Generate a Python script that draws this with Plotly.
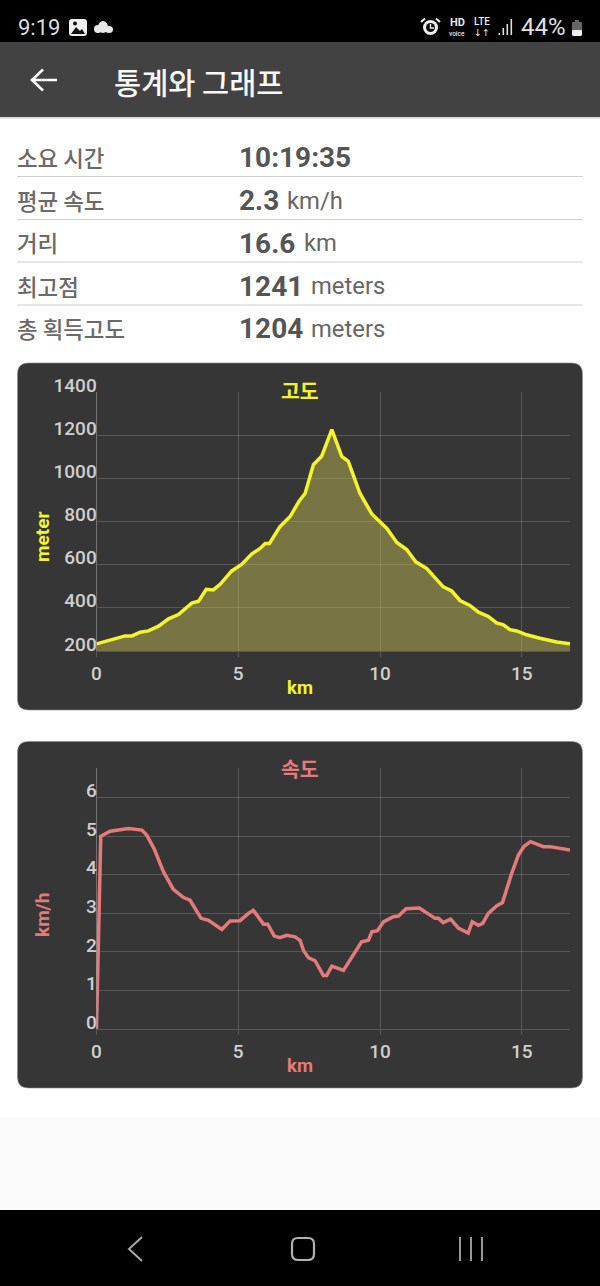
import plotly.graph_objects as go

# ---------- data ----------
alt_km = [0, .66, 1.01, 1.25, 1.54, 1.83, 2.19, 2.54, 2.89, 3.36, 3.60, 3.87, 4.12, 4.36, 4.77, 5.12, 5.48, 5.77, 5.95, 6.10,
          6.47, 6.83, 7.14, 7.36, 7.65, 7.94, 8.30, 8.65, 8.88, 9.29, 9.71, 10.24, 10.59, 10.94, 11.26, 11.65, 12.23, 12.53,
          12.82, 13.17, 13.47, 13.82, 14.11, 14.35, 14.58, 14.82, 15.17, 15.64, 16.23, 16.70]
alt_m = [233, 256, 270, 270, 287, 293, 315, 349, 369, 422, 431, 486, 483, 509, 571, 601, 650, 675, 698, 698,
         776, 823, 893, 931, 1063, 1102, 1226, 1102, 1079, 931, 835, 768, 703, 670, 613, 582, 497, 478,
         434, 411, 380, 360, 330, 321, 299, 293, 275, 259, 242, 233]
spd_km = [0, .15, .48, .78, 1.13, 1.60, 1.77, 2.03, 2.36, 2.71, 3.07, 3.30, 3.69, 3.95, 4.42, 4.71, 5.06, 5.36, 5.53, 5.89,
          6.04, 6.27, 6.47, 6.71, 7.00, 7.18, 7.30, 7.47, 7.71, 8.00, 8.12, 8.30, 8.71, 9.35, 9.59, 9.71, 9.91, 10.12,
          10.47, 10.65, 10.92, 11.39, 11.94, 12.06, 12.23, 12.49, 12.76, 13.11, 13.25, 13.47, 13.62, 13.82, 14.11, 14.32,
          14.64, 14.88, 15.08, 15.31, 15.76, 15.99, 16.70]
spd_kmh = [0, 5.00, 5.13, 5.16, 5.20, 5.16, 5.03, 4.68, 4.08, 3.62, 3.41, 3.34, 2.87, 2.82, 2.58, 2.80, 2.81, 3.00, 3.08, 2.72,
           2.72, 2.41, 2.37, 2.43, 2.39, 2.30, 2.04, 1.85, 1.77, 1.39, 1.39, 1.63, 1.52, 2.26, 2.30, 2.52, 2.55, 2.78,
           2.91, 2.93, 3.12, 3.14, 2.87, 2.87, 2.76, 2.85, 2.62, 2.49, 2.78, 2.69, 2.74, 3.00, 3.19, 3.28,
           4.03, 4.51, 4.74, 4.86, 4.73, 4.73, 4.64]
x_ticks = [0, 5, 10, 15]
alt_ticks = [200, 400, 600, 800, 1000, 1200, 1400]
spd_ticks = [0, 1, 2, 3, 4, 5, 6]
stat_labels = ["소요 시간", "평균 속도", "거리", "최고점", "총 획득고도"]
stat_values = ["10:19:35", "2.3", "16.6", "1241", "1204"]
stat_units = ["", "km/h", "km", "meters", "meters"]

W, H = 600, 1286
KR = "Noto Sans CJK KR"
RB = "Roboto"
YEL = "#F4F42C"
RED = "#E57A7A"
GRID = "rgba(255,255,255,0.17)"
CARD = "#363636"


def px(x): return x / W
def py(y): return 1 - y / H
def P(x, y): return f"{px(x):.5f},{py(y):.5f}"


shapes, notes = [], []


def rect(x0, y0, x1, y1, fill, line=None, lw=1):
    shapes.append(dict(type="rect", xref="paper", yref="paper", x0=px(x0), x1=px(x1), y0=py(y0), y1=py(y1),
                       fillcolor=fill, line=dict(color=line or fill, width=lw if line else 0), layer="below"))


def circle(x0, y0, x1, y1, fill, line=None, lw=1):
    shapes.append(dict(type="circle", xref="paper", yref="paper", x0=px(x0), x1=px(x1), y0=py(y0), y1=py(y1),
                       fillcolor=fill, line=dict(color=line or fill, width=lw if line else 0), layer="below"))


def path(d, fill="rgba(0,0,0,0)", line=None, lw=1):
    shapes.append(dict(type="path", xref="paper", yref="paper", path=d, fillcolor=fill,
                       line=dict(color=line or "rgba(0,0,0,0)", width=lw if line else 0), layer="below"))


def rrect(x0, y0, x1, y1, r, fill, line=None, lw=1):
    d = (f"M{P(x0 + r, y0)} L{P(x1 - r, y0)} Q{P(x1, y0)} {P(x1, y0 + r)} L{P(x1, y1 - r)} Q{P(x1, y1)} {P(x1 - r, y1)} "
         f"L{P(x0 + r, y1)} Q{P(x0, y1)} {P(x0, y1 - r)} L{P(x0, y0 + r)} Q{P(x0, y0)} {P(x0 + r, y0)} Z")
    path(d, fill, line, lw)


def text(x, y, s, size, color, family=RB, weight=400, anchor="left", angle=0):
    notes.append(dict(x=px(x), y=py(y), xref="paper", yref="paper", text=s, showarrow=False, xanchor=anchor,
                      yanchor="middle", textangle=angle, borderpad=0, borderwidth=0,
                      font=dict(size=size, color=color, family=family, weight=weight)))


# ---------- page chrome ----------
rect(0, 0, W, 42, "#000000")
rect(0, 42, W, 117, "#424242")
rect(0, 117, W, 119, "#DDDDDD")
rect(0, 119, W, 1117, "#FFFFFF")
rect(0, 1117, W, 1210, "#FAFAFA")
rect(0, 1210, W, H, "#000000")

# status bar
text(18, 27.5, "9:19", 22, "#DDDDDD")
rrect(69, 19, 87, 36, 3, "#EEEEEE")
path(f"M{P(71, 34)} L{P(76, 27)} L{P(80, 31)} L{P(82, 29)} L{P(85, 34)} Z", "#111111")
circle(73, 21.5, 77, 25.5, "#111111")
circle(94, 25, 102, 33, "#E8E8E8")
circle(98, 21, 108, 33, "#E8E8E8")
circle(105, 26, 113, 33, "#E8E8E8")
circle(423, 20, 438, 35, "#EEEEEE")
circle(426, 23, 435, 32, "#111111")
path(f"M{P(430.5, 24)} L{P(430.5, 28)} L{P(434, 28)}", line="#EEEEEE", lw=1.3)
path(f"M{P(421, 22)} L{P(425, 18.5)}", line="#EEEEEE", lw=2)
path(f"M{P(440, 22)} L{P(436, 18.5)}", line="#EEEEEE", lw=2)
text(457, 22.5, "HD", 11, "#E8E8E8", weight=700, anchor="center")
text(457, 33.5, "voice", 6.5, "#E8E8E8", weight=500, anchor="center")
text(482, 21.5, "LTE", 10, "#E8E8E8", weight=500, anchor="center")
text(482, 33, "↓↑", 9.5, "#E8E8E8", family="DejaVu Sans", anchor="center")
for x0, top in zip([498.5, 502.5, 506.5, 510.5], [33, 28, 24, 19]):
    rect(x0, top, x0 + 1.6, 35, "#DDDDDD")
text(521, 27.5, "44%", 24, "#E0E0E0")
rrect(572, 22, 582, 36, 1.5, "#666666")
rect(575, 20, 579, 22, "#666666")
rrect(572, 30, 582, 36, 1.5, "#EEEEEE")

# app bar
path(f"M{P(32, 80)} L{P(57, 80)} M{P(43, 69.5)} L{P(32, 80)} L{P(43, 90.5)}", line="#FFFFFF", lw=2.6)
text(114, 81, "통계와 그래프", 29.5, "#F8F8F8", family=KR, weight=500)

# stats table
row_y = [158, 201, 243.5, 286.5, 329]
for i, yy in enumerate(row_y):
    text(17, yy - 1, stat_labels[i], 22.4, "#6A6A6A", family=KR, weight=500)
    text(239, yy - 0.5, stat_values[i], 28, "#555555", weight=700)
unit_x = [0, 287, 304, 311, 311]
for i, yy in enumerate(row_y):
    if stat_units[i]:
        text(unit_x[i], yy - 0.5, stat_units[i], 23.8, "#666666")
for yy in [176.5, 219.5, 262, 305]:
    rect(17, yy - 0.6, 582.5, yy + 0.6, "#CFCFCF")

# nav bar
path(f"M{P(142, 1237)} L{P(129, 1249)} L{P(142, 1261)}", line="#A8A8A8", lw=2)
rrect(292, 1238, 314, 1260, 6, "rgba(0,0,0,0)", "#B0B0B0", 2.2)
for xx in [460, 471, 482]:
    rect(xx - 0.9, 1237, xx + 0.9, 1261, "#A8A8A8")

# chart cards
rrect(17.5, 363, 582.5, 710, 11, CARD, "#8A8A8A", 0.6)
rrect(17.5, 741.5, 582.5, 1088, 11, CARD, "#8A8A8A", 0.6)

# chart texts
text(300, 389.5, "고도", 20.5, YEL, family=KR, weight=700, anchor="center")
text(43, 537, "meter", 19, YEL, weight=700, anchor="center", angle=-90)
text(300, 688, "km", 18.5, YEL, weight=700, anchor="center")
text(300, 767.5, "속도", 20.5, RED, family=KR, weight=700, anchor="center")
text(42, 915, "km/h", 19, RED, weight=700, anchor="center", angle=-90)
text(300, 1066, "km", 18.5, RED, weight=700, anchor="center")

# ---------- charts ----------
fig = go.Figure()
fig.add_trace(go.Scatter(x=alt_km, y=alt_m, mode="lines", fill="tozeroy", fillcolor="rgba(205,194,85,0.45)",
                         line=dict(color=YEL, width=3.5), xaxis="x", yaxis="y", showlegend=False))
fig.add_trace(go.Scatter(x=spd_km, y=spd_kmh, mode="lines",
                         line=dict(color=RED, width=3.5), xaxis="x2", yaxis="y2", showlegend=False))

tickfont = dict(size=19, color="#CFCFCF", family=RB, weight=500)
xcommon = dict(range=[0, 16.7], tickvals=x_ticks, showgrid=True, gridcolor=GRID, gridwidth=1, zeroline=False,
               automargin=False, showline=True, linecolor=GRID, linewidth=1, ticks="outside", ticklen=5,
               tickcolor=GRID, tickfont=tickfont)
ycommon = dict(showgrid=True, gridcolor=GRID, gridwidth=1, zeroline=False, showline=True, linecolor="rgba(255,255,255,0.3)",
               automargin=False, linewidth=1, ticks="", tickfont=tickfont, ticklabelstandoff=-5, ticklabelshift=-7)

fig.update_layout(
    width=W, height=H, margin=dict(l=0, r=0, t=0, b=0), autosize=False,
    paper_bgcolor="#FFFFFF", plot_bgcolor="rgba(0,0,0,0)", showlegend=False,
    shapes=shapes, annotations=notes,
    xaxis=dict(domain=[px(96.5), px(570)], anchor="y", **xcommon),
    yaxis=dict(domain=[py(651), py(392)], anchor="x", range=[200, 1400], tickvals=alt_ticks, **ycommon),
    xaxis2=dict(domain=[px(96.5), px(570)], anchor="y2", **xcommon),
    yaxis2=dict(domain=[py(1029), py(768)], anchor="x2", range=[0, 6.77], tickvals=spd_ticks, **ycommon),
)

fig.write_html("out.html", config=dict(displayModeBar=False),
               post_script="document.body.style.margin='0';document.body.style.overflow='hidden';")
